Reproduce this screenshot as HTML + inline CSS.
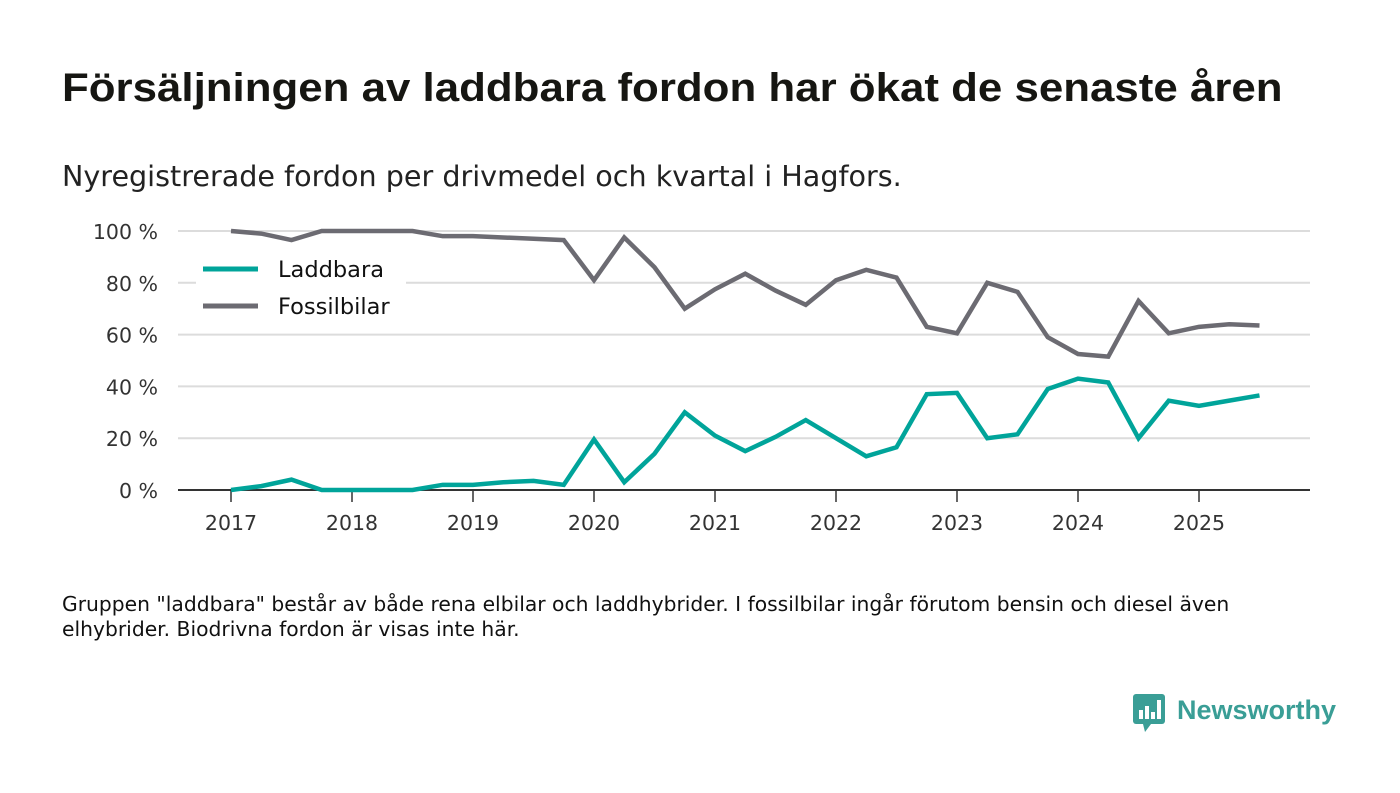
<!DOCTYPE html>
<html><head><meta charset="utf-8"><style>
body{margin:0;background:#fff;width:1400px;height:793px;overflow:hidden;font-family:"DejaVu Sans","Liberation Sans",sans-serif;color:#111}
#title{position:absolute;left:62px;top:66px;font-size:40px;font-weight:bold;color:#161612;font-family:"Liberation Sans",sans-serif;transform:scaleX(1.096);transform-origin:left top;white-space:nowrap}
#sub{position:absolute;left:62px;top:159px;font-size:28.6px;color:#222;white-space:nowrap}
#note{position:absolute;left:62px;top:592px;font-size:20.3px;line-height:25px;color:#111;width:1300px;white-space:nowrap}
#logo{position:absolute;left:1133px;top:692px}
</style></head><body>
<div id="title">Försäljningen av laddbara fordon har ökat de senaste åren</div>
<div id="sub">Nyregistrerade fordon per drivmedel och kvartal i Hagfors.</div>
<svg id="chart" width="1400" height="560" style="position:absolute;left:0;top:0;font-family:'DejaVu Sans',sans-serif"></svg>
<div id="note">Gruppen "laddbara" består av både rena elbilar och laddhybrider. I fossilbilar ingår förutom bensin och diesel även<br>elhybrider. Biodrivna fordon är visas inte här.</div>
<div id="logo">
<svg width="210" height="44"><rect x="0" y="2" width="32" height="30" rx="3" fill="#3a9e96"/><polygon points="10,32 18,32 12,40" fill="#3a9e96"/>
<rect x="6" y="18" width="4" height="9" fill="#fff"/><rect x="12" y="14" width="4" height="13" fill="#fff"/><rect x="18" y="20" width="4" height="7" fill="#fff"/><rect x="24" y="8" width="4" height="19" fill="#fff"/>
<text x="44" y="27" font-size="27" font-weight="bold" fill="#3a9e96" font-family="Liberation Sans, sans-serif">Newsworthy</text></svg></div>
<script>
const years=["2017","2018","2019","2020","2021","2022","2023","2024","2025"];
const yTicks=[0,20,40,60,80,100];
const laddbara=[0,1.5,4,0,0,0,0,2,2,3,3.5,2,19.5,3,14,30,21,15,20.5,27,20,13,16.5,37,37.5,20,21.5,39,43,41.5,20,34.5,32.5,34.5,36.5];
const fossil=[100,99,96.5,100,100,100,100,98,98,97.5,97,96.5,81,97.5,86,70,77.5,83.5,77,71.5,81,85,82,63,60.5,80,76.5,59,52.5,51.5,73,60.5,63,64,63.5];
const NS="http://www.w3.org/2000/svg",svg=document.getElementById('chart');
const x=q=>231+q*30.25, y=v=>490-v*2.59;
function mk(t,a){const e=document.createElementNS(NS,t);for(const k in a)e.setAttribute(k,a[k]);svg.appendChild(e);return e;}
yTicks.forEach(v=>{
 if(v>0){const g=mk('line',{x1:178,x2:1310,y1:y(v),y2:y(v),stroke:'#dcdcdc','stroke-width':2});
 
 }
 const t=mk('text',{x:158,y:y(v)+8,'text-anchor':'end','font-size':20.5,fill:'#333'});t.textContent=v+' %';
 
 
});
years.forEach((yr,i)=>{
 const xx=x(i*4);
 const tk=mk('line',{x1:xx,x2:xx,y1:490,y2:502,stroke:'#333','stroke-width':1.5});
 
 
 const t=mk('text',{x:xx,y:530,'text-anchor':'middle','font-size':20.5,fill:'#333'});t.textContent=yr;
 
 
});
const ax=mk('line',{x1:178,x2:1310,y1:490,y2:490,stroke:'#333','stroke-width':2});


function line(d,c,n){const p=mk('polyline',{points:d.map((v,i)=>x(i)+','+y(v)).join(' '),fill:'none',stroke:c,'stroke-width':4.5,'stroke-linejoin':'miter'});
 
 }
line(fossil,'#6c6b72','fossilbilar-line');
line(laddbara,'#00a49a','laddbara-line');
const bg=mk('rect',{x:196,y:252,width:210,height:76,fill:'#fff'});


[['Laddbara','#00a49a',269],['Fossilbilar','#6c6b72',306]].forEach(([n,c,yy])=>{
 const l=mk('line',{x1:203,x2:258,y1:yy,y2:yy,stroke:c,'stroke-width':5});
 
 
 const t=mk('text',{x:278,y:yy+8,'font-size':22.5,fill:'#111'});t.textContent=n;
 
 
});
</script>
</body></html>
